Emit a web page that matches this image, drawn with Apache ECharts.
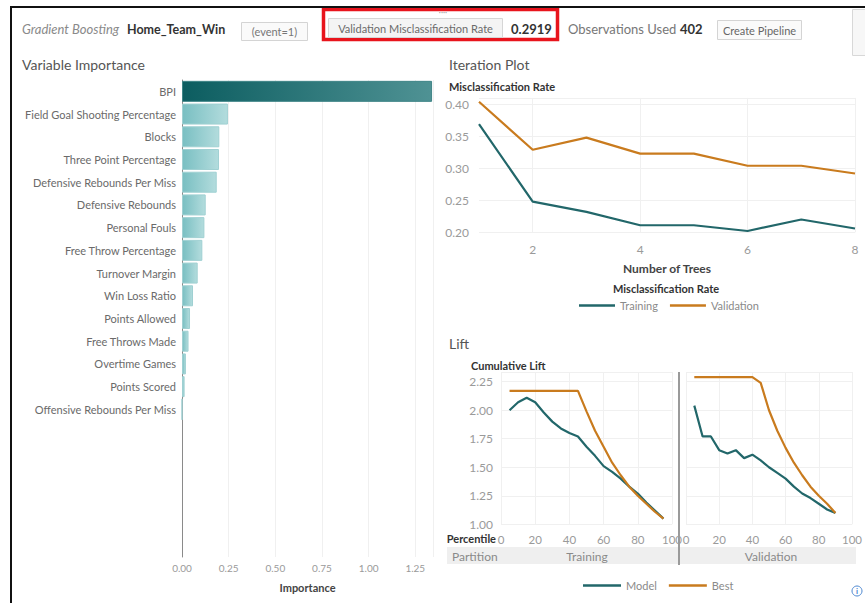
<!DOCTYPE html>
<html>
<head>
<meta charset="utf-8">
<script src="https://cdn.jsdelivr.net/npm/echarts@6/dist/echarts.min.js"></script>
<style>
html,body{margin:0;padding:0;background:#fff;}
#c{width:865px;height:603px;}
</style>
</head>
<body>
<div id="c"></div>
<script>
// ---- Variable importance ----
const categories = ['BPI','Field Goal Shooting Percentage','Blocks','Three Point Percentage','Defensive Rebounds Per Miss','Defensive Rebounds','Personal Fouls','Free Throw Percentage','Turnover Margin','Win Loss Ratio','Points Allowed','Free Throws Made','Overtime Games','Points Scored','Offensive Rebounds Per Miss'];
const importance = [1.340, 0.246, 0.200, 0.198, 0.186, 0.127, 0.120, 0.109, 0.084, 0.059, 0.043, 0.035, 0.021, 0.014, 0];
const importanceTicks = ['0.00','0.25','0.50','0.75','1.00','1.25'];

// ---- Iteration plot ----
const trees = [1, 2, 3, 4, 5, 6, 7, 8];
const trainingRate = [0.369, 0.248, 0.232, 0.211, 0.211, 0.202, 0.220, 0.206];
const validationRate = [0.404, 0.329, 0.348, 0.323, 0.323, 0.304, 0.304, 0.2919];
const treeTicks = [2, 4, 6, 8];

// ---- Lift ----
const trainPct = [5,10,15,20,25,30,35,40,45,50,55,60,65,70,75,80,85,90,95];
const trainModel = [2.00,2.07,2.11,2.07,1.98,1.90,1.84,1.80,1.77,1.68,1.60,1.51,1.46,1.40,1.33,1.27,1.19,1.12,1.05];
const trainBest  = [2.17,2.17,2.17,2.17,2.17,2.17,2.17,2.17,2.17,1.99,1.82,1.68,1.54,1.43,1.33,1.25,1.18,1.11,1.05];
const validPct = [5,10,15,20,25,30,35,40,45,50,55,60,65,70,75,80,85,90];
const validModel = [2.04,1.77,1.77,1.65,1.62,1.65,1.58,1.61,1.56,1.50,1.45,1.40,1.33,1.27,1.23,1.18,1.13,1.10];
const validBest  = [2.29,2.29,2.29,2.29,2.29,2.29,2.29,2.29,2.24,2.00,1.82,1.67,1.54,1.43,1.33,1.25,1.18,1.10];

const TEAL = '#22676a', ORANGE = '#c97b1e';
const FONT = 'Lato, "Open Sans", sans-serif';
const zip = (xs, ys) => xs.map((x, i) => [x, ys[i]]);

const chart = echarts.init(document.getElementById('c'), null, {renderer: 'svg'});

const grad = (a, b) => new echarts.graphic.LinearGradient(0, 0, 1, 0, [{offset: 0, color: a}, {offset: 1, color: b}]);

const barData = importance.map((v, i) => ({
  value: v,
  itemStyle: i === 0 ? {color: grad('#0c5d60', '#4f9294'), borderColor: '#3f8587', borderWidth: 1}
                     : {color: grad('#79bfc2', '#b3dcdd'), borderColor: '#9fd0d2', borderWidth: 1}
}));

const faint = {show: true, lineStyle: {color: '#f0f0f0', width: 1}};
const tickLbl = {color: '#9a9a9a', fontSize: 11, fontFamily: FONT};

const option = {
  animation: false,
  textStyle: {fontFamily: FONT},
  grid: [
    {left: 182, top: 80, width: 251, height: 477},
    {left: 479, top: 97.9, width: 376, height: 134.4},
    {left: 501, top: 372, width: 171, height: 152.3},
    {left: 686, top: 372, width: 170, height: 152.3}
  ],
  xAxis: [
    {type: 'value', gridIndex: 0, min: 0, max: 1.345, interval: 0.25,
     axisLine: {show: false}, axisTick: {show: false}, splitLine: faint,
     axisLabel: Object.assign({}, tickLbl, {fontSize: 10, margin: 6, showMaxLabel: false,
       formatter: v => importanceTicks[Math.round(v / 0.25)] || ''}),
     name: 'Importance', nameLocation: 'middle', nameGap: 25,
     nameTextStyle: {fontWeight: 'bold', color: '#444', fontSize: 11, fontFamily: FONT}},
    {type: 'value', gridIndex: 1, min: 1, max: 8,
     axisLine: {show: false}, axisTick: {show: false, customValues: treeTicks},
     splitLine: faint,
     axisLabel: Object.assign({}, tickLbl, {fontSize: 12, margin: 11, customValues: treeTicks}),
     name: 'Number of Trees', nameLocation: 'middle', nameGap: 30,
     nameTextStyle: {fontWeight: 'bold', color: '#444', fontSize: 12, fontFamily: FONT}},
    {type: 'value', gridIndex: 2, min: 0, max: 100, interval: 20,
     axisLine: {show: false}, axisTick: {show: false}, splitLine: faint,
     axisLabel: Object.assign({}, tickLbl, {fontSize: 11.5, margin: 9})},
    {type: 'value', gridIndex: 3, min: 0, max: 100, interval: 20,
     axisLine: {show: false}, axisTick: {show: false}, splitLine: faint,
     axisLabel: Object.assign({}, tickLbl, {fontSize: 11.5, margin: 9})}
  ],
  yAxis: [
    {type: 'category', gridIndex: 0, data: categories, inverse: true, max: 20,
     axisLine: {show: true, lineStyle: {color: '#8a8a8a', width: 1}}, axisTick: {show: false},
     axisLabel: {color: '#6a6a6a', fontSize: 11, margin: 6, fontFamily: FONT}},
    {type: 'value', gridIndex: 1, min: 0.2, max: 0.41, interval: 0.05,
     axisLine: {show: false}, axisTick: {show: false}, splitLine: faint,
     axisLabel: Object.assign({}, tickLbl, {fontSize: 12, margin: 10, showMaxLabel: false,
       formatter: v => v.toFixed(2)})},
    {type: 'value', gridIndex: 2, min: 1, max: 2.335, interval: 0.25,
     axisLine: {show: false}, axisTick: {show: false}, splitLine: faint,
     axisLabel: Object.assign({}, tickLbl, {fontSize: 12, margin: 8, showMaxLabel: false,
       formatter: v => v.toFixed(2)})},
    {type: 'value', gridIndex: 3, min: 1, max: 2.335, interval: 0.25,
     axisLine: {show: false}, axisTick: {show: false}, splitLine: faint,
     axisLabel: {show: false}}
  ],
  legend: [
    {data: ['Training', 'Validation'], left: 574, top: 295, icon: 'rect', itemWidth: 36, itemHeight: 2.5,
     itemGap: 12, textStyle: {color: '#8a8a8a', fontSize: 11, fontFamily: FONT}},
    {data: ['Model', 'Best'], left: 578, top: 575, icon: 'rect', itemWidth: 38, itemHeight: 2.5,
     itemGap: 12, textStyle: {color: '#8a8a8a', fontSize: 11, fontFamily: FONT}}
  ],
  series: [
    {type: 'bar', xAxisIndex: 0, yAxisIndex: 0, data: barData, barWidth: 21},
    {type: 'line', name: 'Training', xAxisIndex: 1, yAxisIndex: 1, data: zip(trees, trainingRate),
     symbol: 'none', lineStyle: {color: TEAL, width: 2.2}, itemStyle: {color: TEAL}},
    {type: 'line', name: 'Validation', xAxisIndex: 1, yAxisIndex: 1, data: zip(trees, validationRate),
     symbol: 'none', lineStyle: {color: ORANGE, width: 2.2}, itemStyle: {color: ORANGE}},
    {type: 'line', name: 'Model', xAxisIndex: 2, yAxisIndex: 2, data: zip(trainPct, trainModel),
     symbol: 'none', lineStyle: {color: TEAL, width: 2.2}, itemStyle: {color: TEAL}},
    {type: 'line', name: 'Best', xAxisIndex: 2, yAxisIndex: 2, data: zip(trainPct, trainBest),
     symbol: 'none', lineStyle: {color: ORANGE, width: 2.2}, itemStyle: {color: ORANGE}},
    {type: 'line', name: 'Model', xAxisIndex: 3, yAxisIndex: 3, data: zip(validPct, validModel),
     symbol: 'none', lineStyle: {color: TEAL, width: 2.2}, itemStyle: {color: TEAL}},
    {type: 'line', name: 'Best', xAxisIndex: 3, yAxisIndex: 3, data: zip(validPct, validBest),
     symbol: 'none', lineStyle: {color: ORANGE, width: 2.2}, itemStyle: {color: ORANGE}}
  ],
  graphic: [
    // outer frame
    {type: 'rect', shape: {x: 11, y: 7, width: 900, height: 700}, style: {fill: 'none', stroke: '#111', lineWidth: 2}, z: 100},
    // header
    {type: 'text', x: 22, y: 29, style: {text: 'Gradient Boosting', font: 'italic 13px ' + FONT, fill: '#8a8a8a', verticalAlign: 'middle'}},
    {type: 'text', x: 127, y: 29, style: {text: 'Home_Team_Win', font: 'bold 12.5px ' + FONT, fill: '#333', verticalAlign: 'middle'}},
    {type: 'rect', shape: {x: 241.5, y: 22.5, width: 66, height: 18}, style: {fill: '#fafafa', stroke: '#d4d4d4', lineWidth: 1}},
    {type: 'text', x: 274.5, y: 31.5, style: {text: '(event=1)', font: '11px ' + FONT, fill: '#777', align: 'center', verticalAlign: 'middle'}},
    {type: 'text', x: 443, y: 12, style: {text: '····', font: '8px ' + FONT, fill: '#999', align: 'center', verticalAlign: 'middle'}},
    {type: 'rect', shape: {x: 323.5, y: 9.5, width: 234, height: 30}, style: {fill: 'none', stroke: '#e8141c', lineWidth: 3.5}},
    {type: 'rect', shape: {x: 328.5, y: 18.5, width: 174, height: 19}, style: {fill: '#f4f4f4', stroke: '#d6d6d6', lineWidth: 1}},
    {type: 'text', x: 415.5, y: 28.5, style: {text: 'Validation Misclassification Rate', font: '11px ' + FONT, fill: '#6a6a6a', align: 'center', verticalAlign: 'middle'}},
    {type: 'text', x: 511, y: 28.5, style: {text: '0.2919', font: 'bold 13px ' + FONT, fill: '#333', verticalAlign: 'middle'}},
    {type: 'text', x: 568, y: 28.5, style: {text: 'Observations Used', font: '13px ' + FONT, fill: '#777', verticalAlign: 'middle'}},
    {type: 'text', x: 680, y: 28.5, style: {text: '402', font: 'bold 13px ' + FONT, fill: '#333', verticalAlign: 'middle'}},
    {type: 'rect', shape: {x: 717.5, y: 20.5, width: 84, height: 19}, style: {fill: '#fafafa', stroke: '#d4d4d4', lineWidth: 1}},
    {type: 'text', x: 759.5, y: 30, style: {text: 'Create Pipeline', font: '11px ' + FONT, fill: '#666', align: 'center', verticalAlign: 'middle'}},
    {type: 'rect', shape: {x: 852.5, y: 9.5, width: 16, height: 46}, style: {fill: '#f7f7f7', stroke: '#d8d8d8', lineWidth: 1}},
    // section titles
    {type: 'text', x: 22, y: 64, style: {text: 'Variable Importance', font: '14px ' + FONT, fill: '#555', verticalAlign: 'middle'}},
    {type: 'text', x: 449, y: 64, style: {text: 'Iteration Plot', font: '14px ' + FONT, fill: '#555', verticalAlign: 'middle'}},
    {type: 'text', x: 449, y: 343, style: {text: 'Lift', font: '14px ' + FONT, fill: '#555', verticalAlign: 'middle'}},
    // iteration plot titles
    {type: 'text', x: 449, y: 86, style: {text: 'Misclassification Rate', font: 'bold 11px ' + FONT, fill: '#333', verticalAlign: 'middle'}},
    {type: 'text', x: 666, y: 288, style: {text: 'Misclassification Rate', font: 'bold 11px ' + FONT, fill: '#333', align: 'center', verticalAlign: 'middle'}},
    // lift titles
    {type: 'text', x: 471, y: 365, style: {text: 'Cumulative Lift', font: 'bold 11px ' + FONT, fill: '#333', verticalAlign: 'middle'}},
    {type: 'text', x: 496, y: 538, style: {text: 'Percentile', font: 'bold 11px ' + FONT, fill: '#333', align: 'right', verticalAlign: 'middle'}, z: 10},
    {type: 'rect', shape: {x: 447, y: 547, width: 409, height: 17}, style: {fill: '#efefef'}, z: -1},
    {type: 'text', x: 452, y: 556, style: {text: 'Partition', font: '12px ' + FONT, fill: '#8a8a8a', verticalAlign: 'middle'}},
    {type: 'text', x: 587, y: 556, style: {text: 'Training', font: '12px ' + FONT, fill: '#8a8a8a', align: 'center', verticalAlign: 'middle'}},
    {type: 'text', x: 771, y: 556, style: {text: 'Validation', font: '12px ' + FONT, fill: '#8a8a8a', align: 'center', verticalAlign: 'middle'}},
    {type: 'line', shape: {x1: 679, y1: 372, x2: 679, y2: 565}, style: {stroke: '#9a9a9a', lineWidth: 2}, z: 10},
    // info icon
    {type: 'circle', shape: {cx: 857, cy: 591, r: 5}, style: {fill: '#fff', stroke: '#4a86d0', lineWidth: 1}},
    {type: 'text', x: 857, y: 591, style: {text: 'i', font: 'bold 8px ' + FONT, fill: '#4a86d0', align: 'center', verticalAlign: 'middle'}}
  ]
};
chart.setOption(option);
</script>
</body>
</html>
